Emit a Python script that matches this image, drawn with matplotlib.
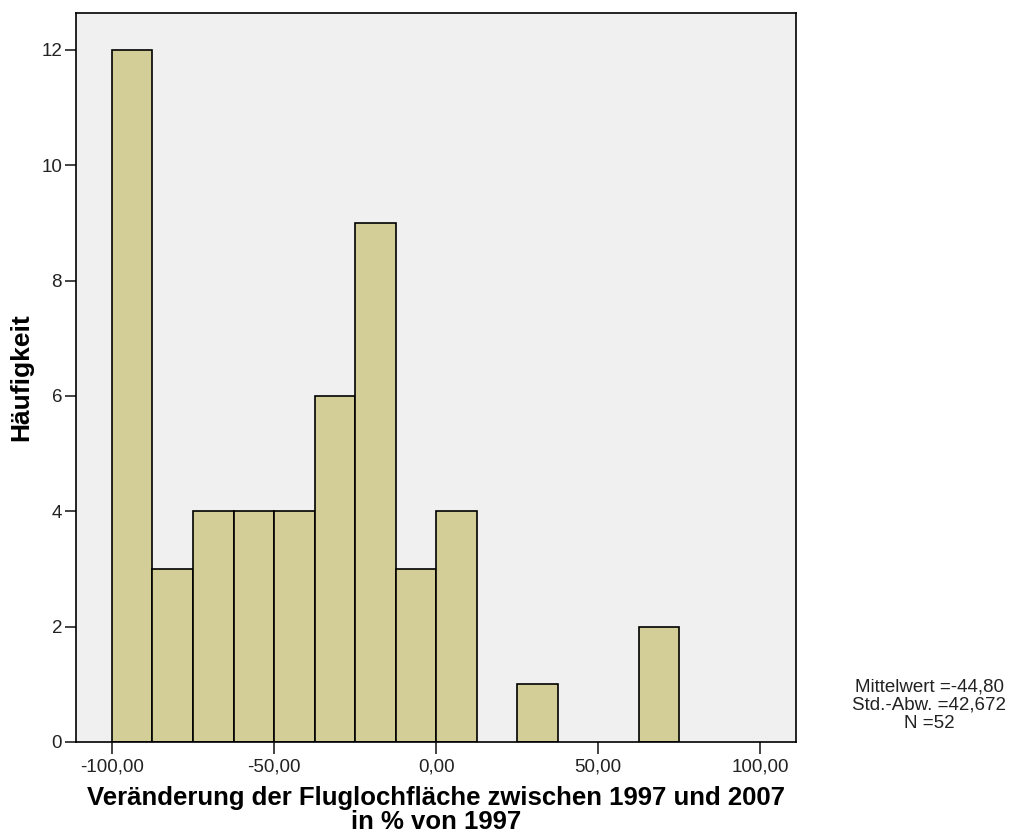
import matplotlib.pyplot as plt
import numpy as np

plt.rcParams['font.family'] = ['Liberation Sans', 'DejaVu Sans']

# histogram bins (width 12.5) and counts
bin_edges = [-100, -87.5, -75, -62.5, -50, -37.5, -25, -12.5, 0, 12.5, 25, 37.5, 50, 62.5, 75]
counts = [12, 3, 4, 4, 4, 6, 9, 3, 4, 0, 1, 0, 0, 2]
x_ticks = [-100, -50, 0, 50, 100]
y_ticks = [0, 2, 4, 6, 8, 10, 12]
stats_text = "Mittelwert =-44,80\nStd.-Abw. =42,672\nN =52"

fig = plt.figure(figsize=(10.13, 8.35), dpi=100)
ax = fig.add_axes([0.075, 0.1114, 0.711, 0.873])
ax.set_facecolor('#f0f0f0')

lefts = np.array(bin_edges[:-1])
widths = np.diff(bin_edges)
heights = np.array(counts)
mask = heights > 0
ax.bar(lefts[mask], heights[mask], width=widths[mask], align='edge',
       color='#d3ce97', edgecolor='black', linewidth=1.2)

ax.set_xlim(-111.1, 111.1)
ax.set_ylim(0, 12.64)
ax.set_xticks(x_ticks)
ax.set_xticklabels([f"{v:.2f}".replace('.', ',') for v in x_ticks])
ax.set_yticks(y_ticks)
ax.tick_params(direction='out', length=8, width=1.2, labelsize=13.5, colors='#222222', pad=2)
ax.tick_params(axis='x', length=8.6, pad=3)
for s in ax.spines.values():
    s.set_linewidth(1.2)
    s.set_color('black')

ax.set_xlabel("Veränderung der Fluglochfläche zwischen 1997 und 2007\nin % von 1997",
              fontsize=18.5, fontweight='bold', linespacing=0.98, labelpad=8)
ax.set_ylabel("Häufigkeit", fontsize=19, fontweight='bold', labelpad=6)

fig.text(929 / 1013, 1 - 705 / 835, stats_text, ha='center', va='center',
         fontsize=13.5, linespacing=1.1, color='#222222')

fig.savefig('out.png', dpi=100)
